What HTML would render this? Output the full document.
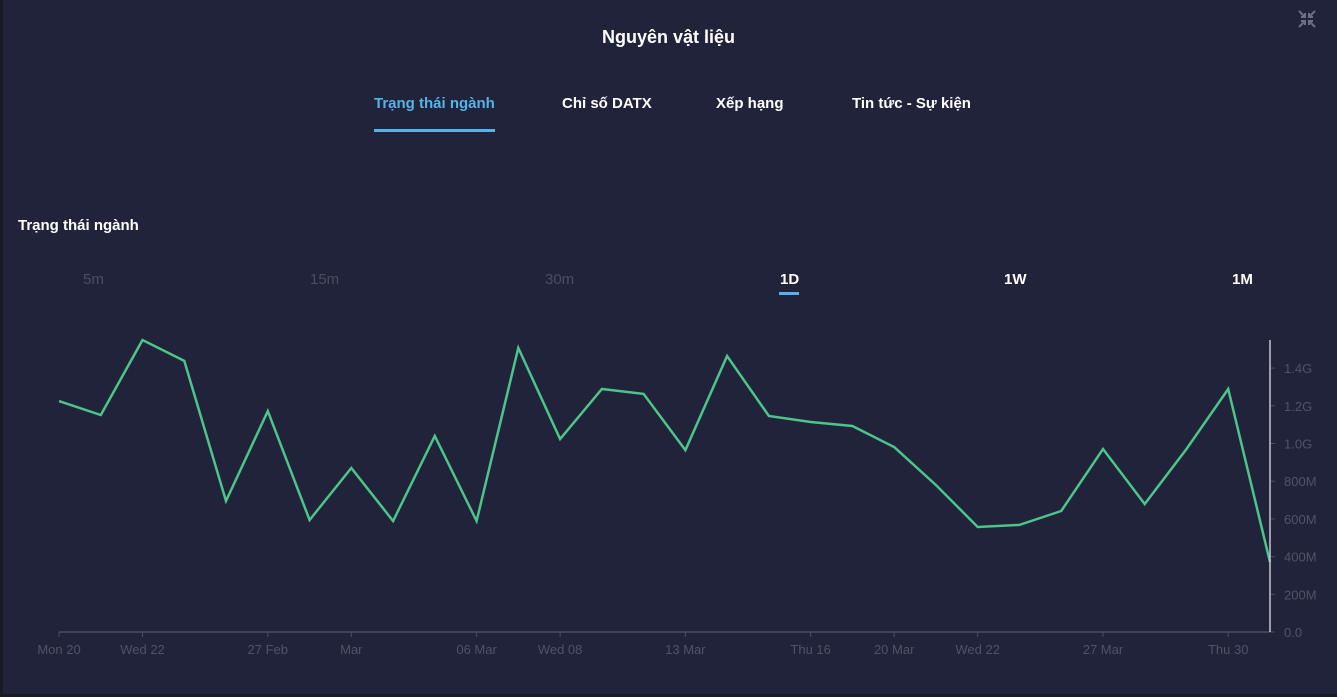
<!DOCTYPE html>
<html><head><meta charset="utf-8"><style>
html,body{margin:0;padding:0;width:1337px;height:697px;overflow:hidden;background:#20233a;font-family:"Liberation Sans","Noto Sans CJK SC",sans-serif;}
.frame{position:absolute;left:0;top:0;width:1337px;height:697px;box-sizing:border-box;border-left:3px solid #1a1b22;border-bottom:3px solid #1a1b22;}
.t{position:absolute;white-space:nowrap;}
</style></head><body>
<div class="frame"></div>
<div class="t" style="left:0;width:1337px;text-align:center;top:27px;font-size:18px;font-weight:bold;color:#fff;">Nguyên vật liệu</div>
<svg style="position:absolute;left:1297px;top:9px" width="20" height="20" viewBox="0 0 20 20"><g stroke="#6b6f85" stroke-width="2"><path d="M2 2L8 8M8 4V8H4M18 2L12 8M12 4V8H16M2 18L8 12M4 12H8V16M18 18L12 12M16 12H12V16" fill="none"/></g></svg>
<div class="t" style="left:374px;top:95px;font-size:15px;font-weight:bold;color:#55b3e8;">Trạng thái ngành</div>
<div style="position:absolute;left:374px;top:129px;width:121px;height:3px;background:#55b3e8;"></div>
<div class="t" style="left:562px;top:95px;font-size:15px;font-weight:bold;color:#fff;">Chỉ số DATX</div>
<div class="t" style="left:716px;top:95px;font-size:15px;font-weight:bold;color:#fff;">Xếp hạng</div>
<div class="t" style="left:852px;top:95px;font-size:15px;font-weight:bold;color:#fff;">Tin tức - Sự kiện</div>
<div class="t" style="left:18px;top:217px;font-size:15px;font-weight:bold;color:#fff;">Trạng thái ngành</div>
<div class="t" style="left:83px;top:271px;font-size:15px;color:#4a4e63;">5m</div>
<div class="t" style="left:310px;top:271px;font-size:15px;color:#4a4e63;">15m</div>
<div class="t" style="left:545px;top:271px;font-size:15px;color:#4a4e63;">30m</div>
<div class="t" style="left:780px;top:271px;font-size:15px;font-weight:bold;color:#fff;">1D</div>
<div style="position:absolute;left:779px;top:292px;width:20px;height:3px;background:#55b3e8;"></div>
<div class="t" style="left:1004px;top:271px;font-size:15px;font-weight:bold;color:#fff;">1W</div>
<div class="t" style="left:1232px;top:271px;font-size:15px;font-weight:bold;color:#fff;">1M</div>
<svg id="chart" style="position:absolute;left:0;top:0" width="1337" height="697"></svg>
<script>
const values=[1225,1151,1549,1438,695,1172,594,870,589,1040,589,1507,1024,1289,1263,965,1464,1146,1114,1093,981,780,557,568,642,971,679,971,1289,371];
const xLabels=["Mon 20","Wed 22","27 Feb","Mar","06 Mar","Wed 08","13 Mar","Thu 16","20 Mar","Wed 22","27 Mar","Thu 30"];
const xLabelIdx=[0,2,5,7,10,12,15,18,20,22,25,28];
const yTicks=[0,200,400,600,800,1000,1200,1400];
const yTickLabels=["0.0","200M","400M","600M","800M","1.0G","1.2G","1.4G"];
const svg=document.getElementById('chart');const NS='http://www.w3.org/2000/svg';
const x0=59,x1=1270,yBase=632,pxPer=37.7/200;
const xs=i=>x0+(x1-x0)*i/(values.length-1);
const ys=v=>yBase-v*pxPer;
function mk(t,a){const e=document.createElementNS(NS,t);for(const k in a)e.setAttribute(k,a[k]);svg.appendChild(e);return e;}
let ax=mk('line',{x1:x0,y1:yBase,x2:x1,y2:yBase,stroke:'#4a4e63','stroke-width':1.5});


let ay=mk('line',{x1:x1,y1:340,x2:x1,y2:yBase,stroke:'#c8c8d0','stroke-width':1.5});


yTicks.forEach((v,i)=>{
 const tk=mk('line',{x1:x1,y1:ys(v),x2:x1+5,y2:ys(v),stroke:'#4a4e63'});
 
 
 const t=mk('text',{x:x1+14,y:ys(v)+5,fill:'#4f5368','font-size':13,'font-family':'Liberation Sans, sans-serif'});
 t.textContent=yTickLabels[i];
 
 
});
xLabelIdx.forEach((idx,i)=>{
 const tk=mk('line',{x1:xs(idx),y1:yBase,x2:xs(idx),y2:yBase+5,stroke:'#4a4e63'});
 
 
 const t=mk('text',{x:xs(idx),y:yBase+22,fill:'#4f5368','font-size':13,'text-anchor':'middle','font-family':'Liberation Sans, sans-serif'});
 t.textContent=xLabels[i];
 
 
});
const d=values.map((v,i)=>(i?'L':'M')+xs(i).toFixed(1)+' '+ys(v).toFixed(1)).join('');
const p=mk('path',{d:d,fill:'none',stroke:'#4cc48a','stroke-width':2.5,'stroke-linejoin':'miter'});


svg.appendChild(ay);
</script>
</body></html>
